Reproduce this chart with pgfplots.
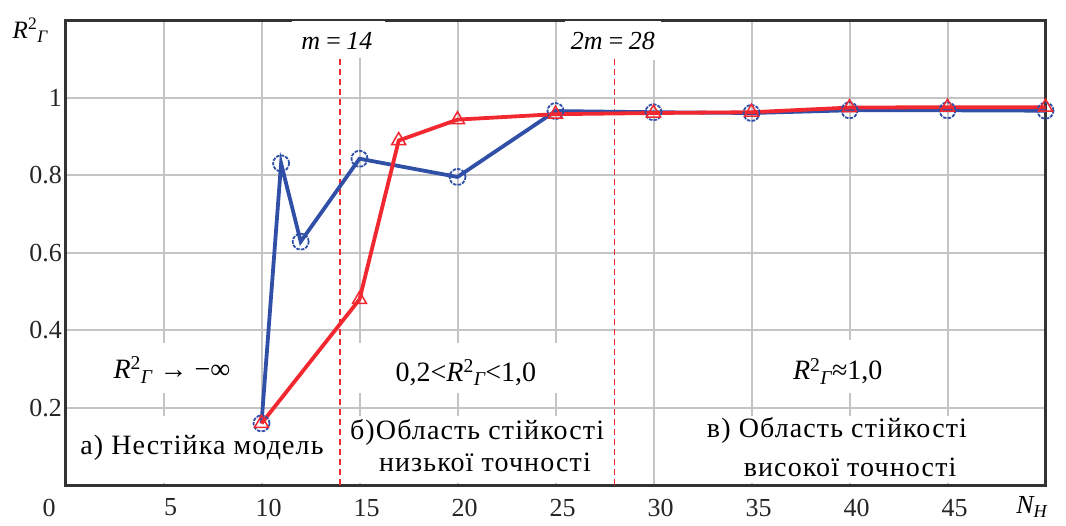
\documentclass[border=0pt]{standalone}
\usepackage{fontspec}
\setmainfont{Liberation Serif}
\newfontfamily\lsp[LetterSpace=4]{Liberation Serif}
\usepackage{pgfplots}
\pgfplotsset{compat=1.18}
\definecolor{bl}{HTML}{3050A8}
\definecolor{rd}{HTML}{F22830}
\definecolor{gr}{HTML}{C4C4C4}
\newcommand{\RG}{{\itshape R}\textsuperscript{2}\textsubscript{\itshape Г}}
\begin{document}
\begin{tikzpicture}
\path[use as bounding box] (0,0) rectangle (1066bp,526bp);
\begin{axis}[
 at={(65.5bp,40.6bp)}, anchor=south west,
 scale only axis, width=980bp, height=465bp,
 xmin=0, xmax=50, ymin=0, ymax=1.2,
 xtick={0,5,...,45},
 xticklabels={\makebox[0pt][r]{0\hspace{17bp}},5,10,15,20,25,30,35,40,45},
 ytick={0.2,0.4,0.6,0.8,1},
 yticklabels={0.2,0.4,0.6,0.8,1},
 grid=major, major grid style={gr, line width=2bp},
 major tick length=0pt,
 axis line style={line width=2.5bp, black!80},
 tick label style={font=\fontsize{26bp}{30bp}\selectfont, text=black!85},
 xticklabel style={yshift=-10bp, xshift=7bp},
 clip=false,
]
% white backgrounds of the text boxes
\fill[white] (axis cs:11.56,1.199) rectangle (axis cs:16.3,1.104);
\fill[white] (axis cs:25.5,1.199) rectangle (axis cs:30.4,1.099);
\fill[white] (axis cs:1.76,0.368) rectangle (axis cs:9.16,0.239);
\fill[white] (axis cs:14.62,0.368) rectangle (axis cs:26.25,0.239);
\fill[white] (axis cs:36.2,0.375) rectangle (axis cs:42.8,0.239);
\fill[white] (axis cs:0.33,0.179) rectangle (axis cs:13.6,0.006);
\fill[white] (axis cs:14.26,0.179) rectangle (axis cs:27.68,0.006);
\fill[white] (axis cs:32.1,0.179) rectangle (axis cs:49.7,0.006);
% texts
\node[anchor=base, font=\fontsize{26bp}{30bp}\selectfont\itshape] at (axis cs:13.85,1.125) {m\,=\,14};
\node[anchor=base, font=\fontsize{26bp}{30bp}\selectfont\itshape] at (axis cs:27.93,1.125) {2m\,=\,28};
\node[anchor=base, font=\fontsize{25bp}{30bp}\selectfont] at (axis cs:-1.8,1.1535) {\RG};
\node[anchor=base, font=\fontsize{26bp}{30bp}\selectfont] at (axis cs:49.3,-0.072) {\itshape N\textsubscript{H}};
\node[anchor=base, font=\fontsize{28bp}{30bp}\selectfont] at (axis cs:5.43,0.275) {\RG\ → −∞};
\node[anchor=base, font=\fontsize{28bp}{30bp}\selectfont] at (axis cs:20.43,0.268) {0,2<\RG<1,0};
\node[anchor=base, font=\fontsize{28bp}{30bp}\selectfont] at (axis cs:39.4,0.272) {\RG≈1,0};
\node[anchor=base, font=\fontsize{28bp}{30bp}\lsp] at (axis cs:6.96,0.081) {а) Нестійка модель};
\node[anchor=base, font=\fontsize{28bp}{30bp}\lsp] at (axis cs:21.0,0.1174) {б)Область стійкості};
\node[anchor=base, font=\fontsize{28bp}{30bp}\lsp] at (axis cs:21.4,0.0346) {низької точності};
\node[anchor=base, font=\fontsize{28bp}{30bp}\lsp] at (axis cs:39.36,0.1225) {в) Область стійкості};
\node[anchor=base, font=\fontsize{28bp}{30bp}\lsp] at (axis cs:40.03,0.0217) {високої точності};
% dashed boundaries
\draw[rd, line width=1.5bp, dash pattern=on 6bp off 4bp] (axis cs:14,0) -- (axis cs:14,1.1);
\draw[rd, line width=1.5bp, dash pattern=on 6bp off 4bp] (axis cs:28,0) -- (axis cs:28,1.1);
% data
\addplot[bl, line width=3.8bp, mark=o, mark size=8bp, mark options={line width=1.8bp, dash pattern=on 3.5bp off 1.2bp}] coordinates {
(10,0.16) (11,0.831) (12,0.629) (15,0.843) (20,0.796) (25,0.966) (30,0.963) (35,0.961) (40,0.968) (45,0.968) (50,0.967)};
\addplot[rd, line width=3.8bp, mark=triangle, mark size=8bp, mark options={line width=1.5bp, solid}] coordinates {
(10,0.16) (15,0.48) (17,0.89) (20,0.944) (25,0.958) (30,0.961) (35,0.963) (40,0.975) (45,0.976) (50,0.976)};
\end{axis}
\end{tikzpicture}
\end{document}
